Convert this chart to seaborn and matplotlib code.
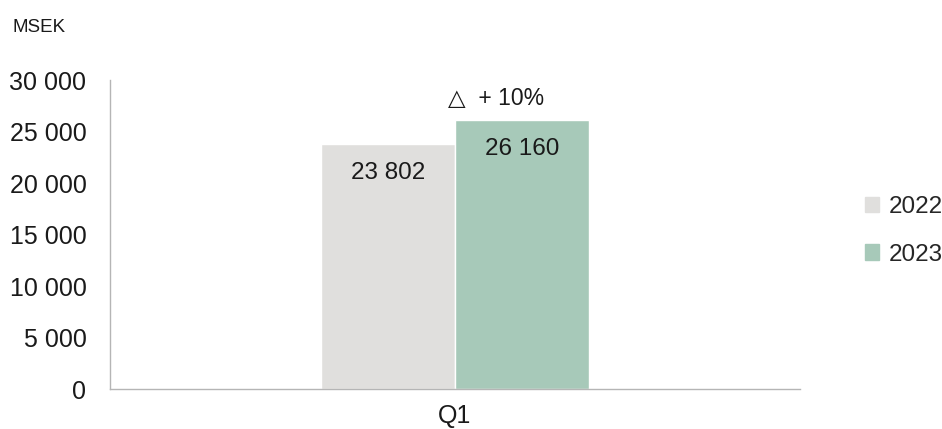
import numpy as np
import pandas as pd
import matplotlib
matplotlib.use("Agg")
import matplotlib.pyplot as plt
from matplotlib.patches import Patch
import seaborn as sns

quarters = ["Q1"]
years = ["2022", "2023"]
values_2022 = [23802]
values_2023 = [26160]
change_label = "\u25b3  + 10%"
unit_label = "MSEK"
yticks = [0, 5000, 10000, 15000, 20000, 25000, 30000]

colors = {"2022": "#E0DFDD", "2023": "#A7C9B9"}

df = pd.DataFrame({
    "Quarter": quarters * 2,
    "Year": ["2022"] * len(quarters) + ["2023"] * len(quarters),
    "Value": values_2022 + values_2023,
})

sns.set_theme(style="white")
plt.rcParams["font.family"] = ["Liberation Sans", "DejaVu Sans"]

fig = plt.figure(figsize=(9.42, 4.29), dpi=100)
ax = fig.add_axes([0.1168, 0.0932, 0.7325, 0.7203])

sns.barplot(data=df, x="Quarter", y="Value", hue="Year", palette=colors,
            width=0.388, ax=ax, legend=False, saturation=1)

fmt = lambda v: f"{v:,.0f}".replace(",", " ")
for cont in ax.containers:
    for bar in cont:
        h = bar.get_height()
        ax.annotate(fmt(h), (bar.get_x() + bar.get_width() / 2, h),
                    xytext=(0, -13), textcoords="offset points",
                    ha="center", va="top", fontsize=17.5, color="#1a1a1a")

# change vs previous year, above the 2023 bar
bar23 = ax.containers[1][0]
ax.annotate(change_label, (bar23.get_x() + bar23.get_width() / 2, bar23.get_height()),
            xytext=(-19, 7), textcoords="offset points",
            ha="center", va="bottom", fontsize=16.5, color="#1a1a1a")

ax.set_xlim(-0.5, 0.5)
ax.set_ylim(0, 30000)
ax.set_yticks(yticks)
ax.set_yticklabels([fmt(v) for v in yticks])
ax.set_xlabel("")
ax.set_ylabel("")
ax.tick_params(axis="y", length=0, pad=17, labelsize=18, labelcolor="#1a1a1a")
ax.tick_params(axis="x", length=0, pad=11, labelsize=18, labelcolor="#1a1a1a")
for s in ["top", "right"]:
    ax.spines[s].set_visible(False)
for s in ["left", "bottom"]:
    ax.spines[s].set_color("#b5b5b5")
    ax.spines[s].set_linewidth(1)

handles = [Patch(color=colors[y], label=y) for y in years]
fig.legend(handles=handles, loc="center left", bbox_to_anchor=(0.918, 0.462),
           frameon=False, fontsize=17.5, handlelength=0.6, handleheight=0.6,
           handletextpad=0.4, labelspacing=1.05, borderpad=0, borderaxespad=0)

fig.text(0.013, 0.925, unit_label, fontsize=13.5, color="#1a1a1a")

fig.savefig("out.png", dpi=100)
